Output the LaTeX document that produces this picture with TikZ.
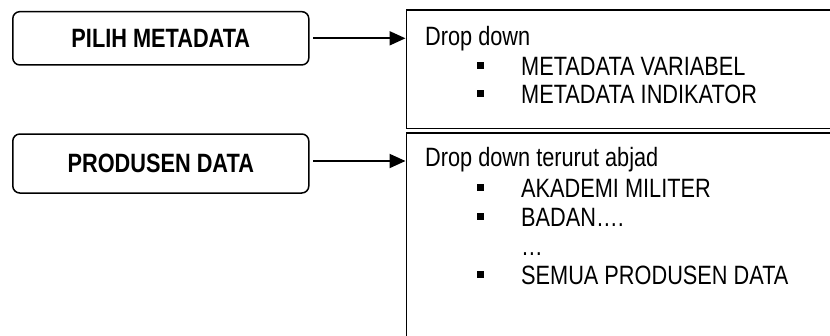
\documentclass[tikz,border=0pt]{standalone}
\usepackage{fontspec}
\setmainfont{Liberation Sans}[FakeStretch=0.82]
\usetikzlibrary{arrows.meta}
\tikzset{
  menubox/.style={draw, line width=1.5pt, rounded corners=7pt, minimum width=296pt,
    minimum height=#1, inner sep=0pt, font=\fontsize{26.5}{30}\selectfont\bfseries},
  panel/.style={draw, line width=1.8pt, anchor=north west, minimum width=440pt,
    minimum height=#1, inner sep=0pt},
  entry/.style={anchor=base west, inner sep=0pt, font=\fontsize{26.5}{30}\selectfont},
  bullet/.style={fill=black, minimum size=7pt, inner sep=0pt},
  link/.style={line width=2pt, -{Triangle[length=16pt,width=14pt]}}
}
\begin{document}
\begin{tikzpicture}[x=1pt, y=-1pt]
  \useasboundingbox (0,0) rectangle (830,335);
  \clip (0,0) rectangle (830,335);

  % menu choices
  \node[menubox=53.3pt] (m1) at (160.8,38.3) {PILIH METADATA};
  \node[menubox=59pt]   (m2) at (160.8,163.5) {PRODUSEN DATA};

  % option panels (running past the right and lower edges)
  \node[panel=118.5pt] (rb1) at (405.5,9) {};
  \node[panel=220pt]   (rb2) at (405.5,132) {};

  % connectors
  \coordinate (a1) at ([xshift=3.5pt]m1.east);
  \coordinate (a2) at ([xshift=3.5pt,yshift=2.5pt]m2.east);
  \draw[link] (a1) -- (a1 -| rb1.west);
  \draw[link] (a2) -- (a2 -| rb2.west);

  % first panel contents
  \node[entry] (t1) at (425,45) {Drop down};
  \node[bullet] (b11) at (480,65) {};
  \node[entry] (t11) at (521,75) {METADATA VARIABEL};
  \node[bullet] (b12) at (480,93.3) {};
  \node[entry] (t12) at (521,103.3) {METADATA INDIKATOR};

  % second panel contents
  \node[entry] (t2) at (425,166) {Drop down terurut abjad};
  \node[bullet] (b21) at (480,187.3) {};
  \node[entry] (t21) at (521,197.3) {AKADEMI MILITER};
  \node[bullet] (b22) at (480,216) {};
  \node[entry] (t22) at (521,226) {BADAN….};
  \node[entry] (t23) at (521,255) {…};
  \node[bullet] (b24) at (480,274.3) {};
  \node[entry] (t24) at (521,284.3) {SEMUA PRODUSEN DATA};
\end{tikzpicture}
\end{document}
